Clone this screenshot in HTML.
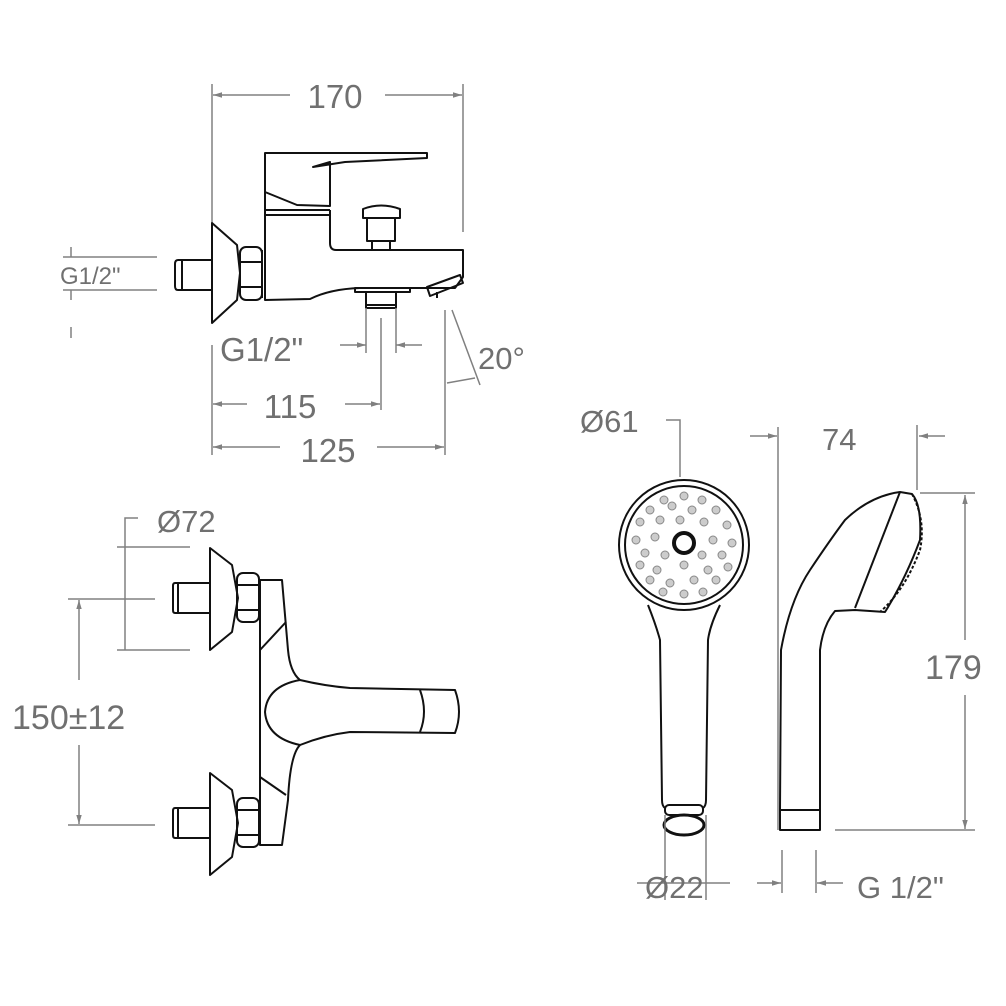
<!DOCTYPE html>
<html><head><meta charset="utf-8"><style>
html,body{margin:0;padding:0;background:#fff}
svg{display:block}
.d{stroke:#808080;stroke-width:1.5;fill:none}
.k{stroke:#111;stroke-width:2;fill:none;stroke-linejoin:round}
.t{font-family:"Liberation Sans",sans-serif;fill:#707070}
.dot{fill:#ccc;stroke:#888;stroke-width:1}
</style></head><body>
<svg width="1006" height="1006" viewBox="0 0 1006 1006" xmlns="http://www.w3.org/2000/svg">
<defs>
<marker id="a" viewBox="0 0 10 10" refX="10" refY="5" markerWidth="9" markerHeight="6" orient="auto-start-reverse"><path d="M0,2 L10,5 L0,8 z" fill="#808080"/></marker>
</defs>

<!-- ===== TOP VIEW ===== -->
<path class="d" d="M212,84 V225 M463,84 V232"/>
<path class="d" d="M290,95 H213" marker-end="url(#a)"/>
<path class="d" d="M385,95 H462" marker-end="url(#a)"/>
<text class="t" x="335" y="108" font-size="33" text-anchor="middle">170</text>

<path class="k" d="M265,153 H427 L427,158 L345,162 L313,167 L330,162 L330,206 L297,205 L265,192 Z"/>
<path class="k" d="M265,192 L265,300 L310,299 Q330,289 360,288 L455,288 L463,277 L463,250 L336,250 Q330,250 330,243 V210"/>
<path class="k" d="M265,210 H330 M265,215 H330"/>
<path class="k" d="M363,218 H400 V209 Q381,202 363,209 Z M367,218 V241 H395 V218 M372,241 V250 H390 V241"/>
<path class="k" d="M355,288 H410 V292 H355 Z M366,292 V308 H396 V292 M366,305 H396"/>
<path class="k" d="M427,287 L460,275 L463,283 L430,296 Z M437,292 V298"/>
<path class="k" d="M212,223 L237,245 L240,273 L237,300 L212,323 Z"/>
<rect class="k" x="240" y="247" width="22" height="53" rx="6"/>
<path class="k" d="M240,262 H262 M240,287 H262 M262,250 V298"/>
<path class="k" d="M212,260 H178 Q175,260 175,264 V286 Q175,290 178,290 H212 M182,260 V290"/>

<path class="d" d="M63,257 H157 M63,290 H157 M71,247 V257 M71,290 V300 M71,327 V338"/>
<text class="t" x="60" y="284" font-size="24">G1/2"</text>

<text class="t" x="220" y="361" font-size="33">G1/2"</text>
<path class="d" d="M366,308 V353 M396,308 V353 M381,318 V410"/>
<path class="d" d="M340,345 H366" marker-end="url(#a)"/>
<path class="d" d="M422,345 H396" marker-end="url(#a)"/>
<path class="d" d="M445,310 V455 M452,310 L480,385"/>
<path class="d" d="M447,383 L475,378"/>
<text class="t" x="478" y="369" font-size="31">20°</text>
<path class="d" d="M212,345 V455"/>
<path class="d" d="M247,404 H213" marker-end="url(#a)"/>
<path class="d" d="M345,404 H380" marker-end="url(#a)"/>
<text class="t" x="290" y="418" font-size="33" text-anchor="middle">115</text>
<path class="d" d="M280,447 H213" marker-end="url(#a)"/>
<path class="d" d="M377,447 H444" marker-end="url(#a)"/>
<text class="t" x="328" y="462" font-size="33" text-anchor="middle">125</text>

<!-- ===== FRONT VIEW ===== -->
<text class="t" x="157" y="532" font-size="31">Ø72</text>
<path class="d" d="M138,518 H125 V547 M117,547 H190 M117,650 H190"/>
<path class="d" d="M125,547 V650"/>
<path class="d" d="M68,599 H155 M68,825 H155"/>
<path class="d" d="M79,680 V600" marker-end="url(#a)"/>
<path class="d" d="M79,745 V824" marker-end="url(#a)"/>
<text class="t" x="12" y="729" font-size="34">150±12</text>

<g id="fit">
<path class="k" d="M210,548 L232,565 L238,598 L232,632 L210,650 Z"/>
<rect class="k" x="237" y="573" width="22" height="49" rx="6"/>
<path class="k" d="M237,585 H259 M237,610 H259"/>
<path class="k" d="M210,583 H175 Q173,583 173,586 V610 Q173,613 175,613 H210 M178,583 V613"/>
</g>
<use href="#fit" transform="translate(0,225)"/>
<path class="k" d="M260,580 H282 L288,650 Q290,672 300,680 M300,745 Q290,755 288,800 L282,845 H260 V580"/>
<path class="k" d="M260,650 L286,622 M260,777 L286,795"/>
<path class="k" d="M300,680 Q325,686 350,688 L455,690 Q463,712 455,733 L350,732 Q325,735 300,745 Q267,738 265,712 Q267,686 300,680 Z"/>
<path class="k" d="M420,690 Q428,712 420,732"/>

<!-- ===== SHOWER FRONT ===== -->
<text class="t" x="580" y="432" font-size="31">Ø61</text>
<path class="d" d="M666,420 H680 V477"/>
<circle class="k" cx="684" cy="545" r="65"/>
<circle class="k" cx="684" cy="545" r="59"/>
<circle cx="684" cy="543" r="10" fill="none" stroke="#111" stroke-width="4"/>
<g>
<circle class="dot" cx="684" cy="496" r="4"/><circle class="dot" cx="664" cy="500" r="4"/><circle class="dot" cx="702" cy="500" r="4"/>
<circle class="dot" cx="650" cy="510" r="4"/><circle class="dot" cx="672" cy="506" r="4"/><circle class="dot" cx="692" cy="510" r="4"/><circle class="dot" cx="716" cy="510" r="4"/>
<circle class="dot" cx="640" cy="522" r="4"/><circle class="dot" cx="660" cy="520" r="4"/><circle class="dot" cx="680" cy="520" r="4"/><circle class="dot" cx="704" cy="522" r="4"/><circle class="dot" cx="727" cy="525" r="4"/>
<circle class="dot" cx="636" cy="540" r="4"/><circle class="dot" cx="655" cy="537" r="4"/><circle class="dot" cx="713" cy="540" r="4"/><circle class="dot" cx="732" cy="543" r="4"/>
<circle class="dot" cx="645" cy="553" r="4"/><circle class="dot" cx="665" cy="555" r="4"/><circle class="dot" cx="702" cy="555" r="4"/><circle class="dot" cx="722" cy="555" r="4"/>
<circle class="dot" cx="640" cy="565" r="4"/><circle class="dot" cx="657" cy="570" r="4"/><circle class="dot" cx="684" cy="565" r="4"/><circle class="dot" cx="708" cy="570" r="4"/><circle class="dot" cx="728" cy="567" r="4"/>
<circle class="dot" cx="650" cy="580" r="4"/><circle class="dot" cx="670" cy="583" r="4"/><circle class="dot" cx="694" cy="580" r="4"/><circle class="dot" cx="716" cy="580" r="4"/>
<circle class="dot" cx="663" cy="592" r="4"/><circle class="dot" cx="684" cy="594" r="4"/><circle class="dot" cx="703" cy="592" r="4"/>
</g>
<path class="k" d="M648,605 Q656,625 660,640 L662,800 Q662,806 665,808 M720,605 Q710,625 708,640 L706,800 Q706,806 703,808"/>
<rect class="k" x="665" y="805" width="38" height="10" rx="4"/>
<ellipse cx="684" cy="825" rx="20" ry="10" fill="none" stroke="#111" stroke-width="3"/>
<path class="d" d="M665,815 V900 M706,815 V900 M637,883 H730"/>
<text class="t" x="645" y="898" font-size="31">Ø22</text>

<!-- ===== SHOWER SIDE ===== -->
<text class="t" x="822" y="450" font-size="31">74</text>
<path class="d" d="M750,436 H777" marker-end="url(#a)"/>
<path class="d" d="M945,436 H919" marker-end="url(#a)"/>
<path class="d" d="M778,427 V830 M917,425 V490"/>
<path class="k" d="M780,810 L781,650 Q790,600 810,570 Q830,540 845,520 Q870,496 900,492 L912,494 Q922,505 920,540 Q905,580 885,612 L855,610 L835,611 Q823,625 820,650 L820,810"/>
<path class="k" d="M900,492 L855,608"/>
<path class="k" d="M912,494 Q926,520 920,550 Q905,590 880,612" stroke-dasharray="3,2" stroke-width="3"/>
<rect class="k" x="780" y="810" width="40" height="20"/>
<text class="t" x="925" y="679" font-size="34">179</text>
<path class="d" d="M920,493 H975 M835,830 H975"/>
<path class="d" d="M965,640 V495" marker-end="url(#a)"/>
<path class="d" d="M965,695 V829" marker-end="url(#a)"/>
<path class="d" d="M782,850 V893 M816,850 V893"/>
<path class="d" d="M757,883 H781" marker-end="url(#a)"/>
<path class="d" d="M843,883 H817" marker-end="url(#a)"/>
<text class="t" x="857" y="898" font-size="31">G 1/2"</text>
</svg>
</body></html>
